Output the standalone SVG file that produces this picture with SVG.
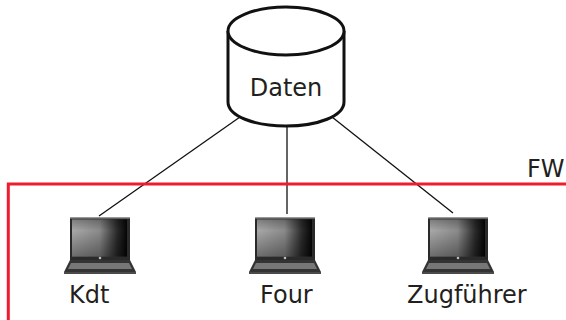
<svg xmlns="http://www.w3.org/2000/svg" xmlns:xlink="http://www.w3.org/1999/xlink" width="566" height="320" viewBox="0 0 566 320">
<style>
text{font-family:"DejaVu Sans",Verdana,sans-serif;font-size:24px;fill:#231f20}
.c{stroke:#111;stroke-width:1.3;fill:none}
.fw{stroke:#ed1c2e;stroke-width:3;fill:none}
.cyl{fill:#fff;stroke:#111;stroke-width:3}
</style>
<defs>
<linearGradient id="scr" x1="0" x2="1" y1="0" y2="0"><stop offset="0" stop-color="#a8a8a8"/><stop offset=".5" stop-color="#8a8a8a"/><stop offset=".82" stop-color="#2a2a2a"/><stop offset="1" stop-color="#050505"/></linearGradient>
<linearGradient id="scv" x1="0" x2="0" y1="0" y2="1"><stop offset="0" stop-color="#000" stop-opacity=".25"/><stop offset=".3" stop-color="#000" stop-opacity="0"/><stop offset="1" stop-color="#000" stop-opacity=".35"/></linearGradient>
<g id="laptop">
<rect x="0" y="0" width="60" height="44" rx="1" fill="#2a2a2a"/>
<rect x="0" y="0" width="60" height="1.5" fill="#999"/>
<rect x="2" y="2.500" width="55" height="37" fill="url(#scr)"/>
<rect x="2" y="2.500" width="55" height="37" fill="url(#scv)"/>
<path d="M0 43H60L66 55V56H-6V55Z" fill="#333"/>
<path d="M1 46H59L62 52H-2Z" fill="#777"/>
<rect x="-6" y="55" width="72" height="2" fill="#4a4a4a"/>
<circle cx="30" cy="41" r="1.300" fill="#bbb"/>
</g>
</defs>
<g id="connectors">
<path class="c" d="M240 117L99 216"/>
<path class="c" d="M287 126V214"/>
<path class="c" d="M332 117L453 213"/>
</g>
<g id="fw">
<path class="fw" d="M566 184H8.300V320"/>
<text x="527" y="177">FW</text>
</g>
<g id="daten">
<path class="cyl" d="M228 31V102C228 116 254 126 286 126S344 116 344 102V31"/>
<ellipse class="cyl" cx="286" cy="31" rx="58" ry="24"/>
<text x="286" y="96" text-anchor="middle">Daten</text>
</g>
<g id="kdt">
<use xlink:href="#laptop" href="#laptop" x="70" y="217"/>
<text x="69" y="303">Kdt</text>
</g>
<g id="four">
<use xlink:href="#laptop" href="#laptop" x="255" y="217"/>
<text x="260" y="303">Four</text>
</g>
<g id="zugfuehrer">
<use xlink:href="#laptop" href="#laptop" x="428" y="217"/>
<text x="407" y="303">Zugführer</text>
</g>
</svg>
